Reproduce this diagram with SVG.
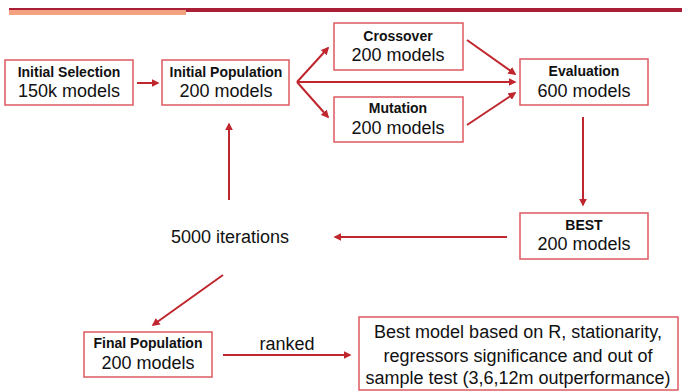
<svg xmlns="http://www.w3.org/2000/svg" width="682" height="392" viewBox="0 0 682 392">
<style>
.box{fill:#fff;stroke:#dd5a60;stroke-width:1.5}
.b{font-family:"Liberation Sans",Arial,sans-serif;font-weight:bold;font-size:14px;fill:#111;text-anchor:middle}
.r{font-family:"Liberation Sans",Arial,sans-serif;font-size:18px;fill:#111;text-anchor:middle}
.c{stroke:#c0262d;stroke-width:2;fill:none;marker-end:url(#ah)}
</style>
<defs>
<marker id="ah" viewBox="0 0 10 10" refX="8" refY="5" markerWidth="4" markerHeight="4" orient="auto" markerUnits="strokeWidth">
<path d="M0,0 L10,5 L0,10 Z" fill="#c0262d"/>
</marker>
</defs>
<rect width="682" height="392" fill="#fff"/>
<g id="topbar">
<rect x="9" y="8" width="673" height="4" fill="#a91f38"/>
<rect x="9" y="10" width="177" height="5" fill="#f4a182"/>
</g>
<g id="connectors">
<line class="c" x1="137" y1="83" x2="158" y2="83"/>
<line class="c" x1="297" y1="82" x2="328" y2="48"/>
<line class="c" x1="297" y1="82" x2="328" y2="117"/>
<line class="c" x1="297" y1="82" x2="515" y2="82"/>
<line class="c" x1="467" y1="40" x2="515" y2="74"/>
<line class="c" x1="467" y1="125" x2="515" y2="93"/>
<line class="c" x1="583" y1="117" x2="583" y2="205"/>
<line class="c" x1="507" y1="237" x2="335" y2="237"/>
<line class="c" x1="229" y1="200" x2="229" y2="124"/>
<line class="c" x1="223" y1="275" x2="153" y2="325"/>
<line class="c" x1="223" y1="355" x2="350" y2="355"/>
</g>
<g id="initial-selection">
<rect class="box" x="5" y="60" width="128" height="45"/>
<text class="b" x="69" y="77">Initial Selection</text>
<text class="r" x="69" y="97">150k models</text>
</g>
<g id="initial-population">
<rect class="box" x="162" y="60" width="127" height="45"/>
<text class="b" x="226" y="77">Initial Population</text>
<text class="r" x="226" y="97">200 models</text>
</g>
<g id="crossover">
<rect class="box" x="334" y="23" width="129" height="47"/>
<text class="b" x="398" y="41">Crossover</text>
<text class="r" x="398" y="61">200 models</text>
</g>
<g id="mutation">
<rect class="box" x="334" y="97" width="129" height="45"/>
<text class="b" x="398" y="113">Mutation</text>
<text class="r" x="398" y="134">200 models</text>
</g>
<g id="evaluation">
<rect class="box" x="520" y="59" width="128" height="46"/>
<text class="b" x="584" y="76">Evaluation</text>
<text class="r" x="584" y="97">600 models</text>
</g>
<g id="best">
<rect class="box" x="520" y="213" width="128" height="46"/>
<text class="b" x="584" y="230">BEST</text>
<text class="r" x="584" y="250">200 models</text>
</g>
<g id="iterations">
<text class="r" x="230" y="243">5000 iterations</text>
</g>
<g id="final-population">
<rect class="box" x="84" y="332" width="128" height="45"/>
<text class="b" x="148" y="348">Final Population</text>
<text class="r" x="148" y="369">200 models</text>
</g>
<g id="ranked">
<text class="r" x="287" y="350">ranked</text>
</g>
<g id="best-model">
<rect class="box" x="359" y="317" width="319" height="73"/>
<text class="r" x="518" y="338">Best model based on R, stationarity,</text>
<text class="r" x="518" y="362">regressors significance and out of</text>
<text class="r" x="518" y="384">sample test (3,6,12m outperformance)</text>
</g>
</svg>
